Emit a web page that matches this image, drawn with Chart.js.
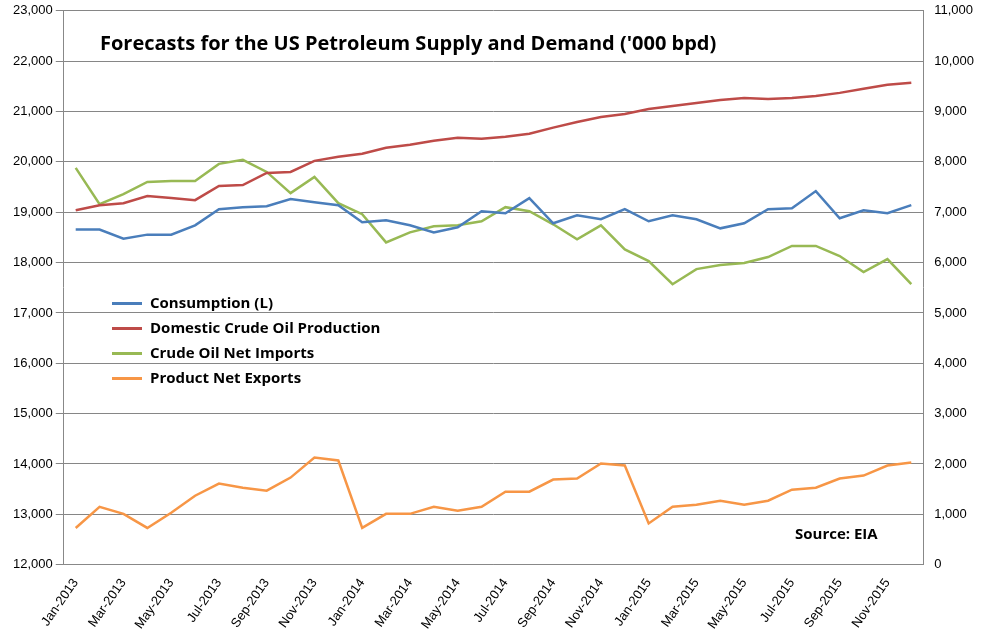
<!DOCTYPE html>
<html>
<head>
<meta charset="utf-8">
<script src="https://cdn.jsdelivr.net/npm/chart.js@4"></script>
<style>
body{margin:0;background:#fff;font-family:"Liberation Sans",Arial,sans-serif;}
#wrap{position:relative;width:981px;height:641px;}
#title{position:absolute;left:100px;top:29px;font:bold 20px "Open Sans","Noto Sans",sans-serif;color:#000;}
#legend{position:absolute;left:112px;top:292px;font:bold 15px "Open Sans","Noto Sans",sans-serif;}
#legend div{height:25px;line-height:20px;}
#legend span{display:inline-block;width:30px;height:3px;vertical-align:middle;margin-right:8px;}
#source{position:absolute;left:795px;top:523px;font:bold 15px "Open Sans","Noto Sans",sans-serif;}
</style>
</head>
<body>
<div id="wrap">
<canvas id="c" width="981" height="641"></canvas>
<div id="title">Forecasts for the US Petroleum Supply and Demand ('000 bpd)</div>
<div id="legend"></div>
<div id="source">Source: EIA</div>
</div>
<script>
const months = [];
const monthNames = ["Jan","Feb","Mar","Apr","May","Jun","Jul","Aug","Sep","Oct","Nov","Dec"];
for (const y of [2013, 2014, 2015]) for (const m of monthNames) months.push(m + "-" + y);

const consumption = [18657,18657,18475,18555,18555,18740,19060,19100,19120,19260,19200,19140,
  18800,18840,18740,18600,18700,19020,18980,19280,18780,18940,18860,19060,
  18820,18940,18860,18680,18780,19060,19080,19420,18880,19040,18980,19140];
const production = [7040,7140,7180,7320,7280,7240,7520,7540,7780,7800,8020,8100,
  8160,8280,8340,8420,8480,8460,8500,8560,8680,8790,8890,8950,
  9050,9110,9170,9230,9270,9250,9270,9310,9370,9450,9530,9570];
const crudeImports = [7880,7160,7360,7600,7620,7620,7960,8040,7800,7380,7700,7180,
  6960,6400,6600,6720,6740,6820,7100,7020,6760,6460,6740,6260,
  6030,5570,5870,5950,5990,6110,6330,6330,6130,5810,6070,5570];
const productExports = [730,1150,1010,730,1030,1370,1610,1530,1470,1730,2130,2070,
  730,1010,1010,1150,1070,1150,1450,1450,1690,1710,2010,1970,
  820,1150,1190,1270,1190,1270,1490,1530,1710,1770,1970,2030];

const series = [
  {label:"Consumption (L)", data:consumption, color:"#4a7ebb", axis:"y"},
  {label:"Domestic Crude Oil Production", data:production, color:"#be4b48", axis:"y1"},
  {label:"Crude Oil Net Imports", data:crudeImports, color:"#98b954", axis:"y1"},
  {label:"Product Net Exports", data:productExports, color:"#f79646", axis:"y1"}
];

document.getElementById("legend").innerHTML =
  series.map(s => `<div><span style="background:${s.color}"></span>${s.label}</div>`).join("");

const tickFont = {family:"Liberation Sans", size:13};

new Chart(document.getElementById("c"), {
  type:"line",
  data:{
    labels:months,
    datasets:series.map(s => ({
      label:s.label, data:s.data, borderColor:s.color, backgroundColor:s.color,
      borderWidth:2.5, pointRadius:0, tension:0, yAxisID:s.axis
    }))
  },
  options:{
    responsive:false, animation:false,
    layout:{padding:{left:10, right:4, top:8, bottom:6}},
    plugins:{legend:{display:false}, tooltip:{enabled:false}},
    scales:{
      x:{
        offset:true,
        grid:{display:false, drawTicks:true},
        border:{color:"#888"},
        ticks:{
          autoSkip:false, maxRotation:55, minRotation:55, color:"#000", font:tickFont,
          callback:(v, i) => i % 2 === 0 ? months[i] : ""
        }
      },
      y:{
        position:"left", min:12000, max:23000,
        ticks:{stepSize:1000, color:"#000", font:tickFont, callback:v => v.toLocaleString("en-US")},
        grid:{color:"#868686"}, border:{color:"#888"}
      },
      y1:{
        position:"right", min:0, max:11000,
        ticks:{stepSize:1000, color:"#000", font:tickFont, callback:v => v.toLocaleString("en-US")},
        grid:{display:false}, border:{color:"#888"}
      }
    }
  }
});
</script>
</body>
</html>
